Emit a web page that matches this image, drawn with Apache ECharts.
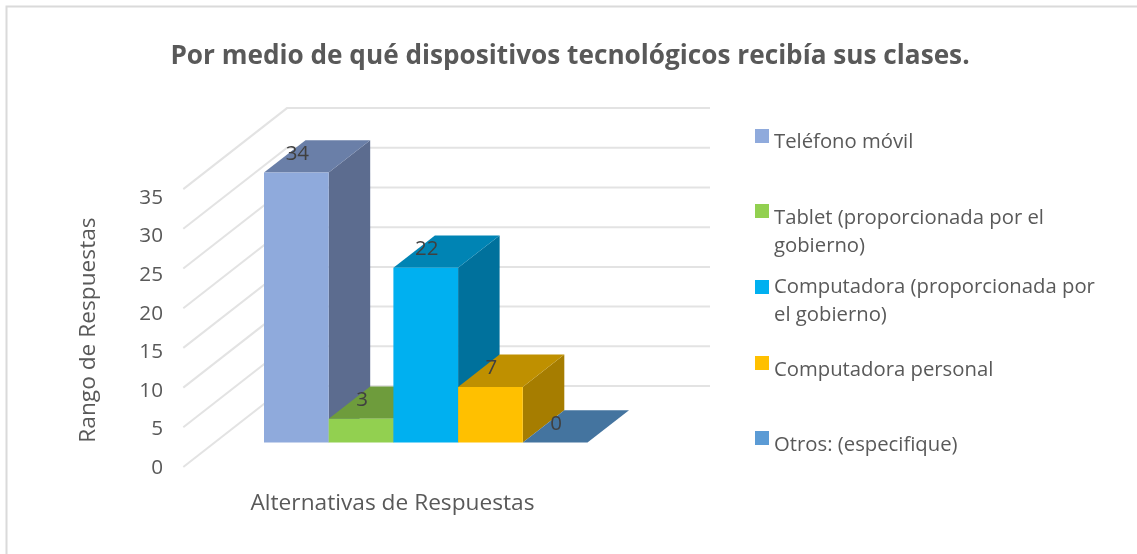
<!DOCTYPE html>
<html><head><meta charset="utf-8">
<style>html,body{margin:0;padding:0;background:#fff}#c{width:1137px;height:554px}</style>
<script src="https://cdn.jsdelivr.net/npm/echarts@6/dist/echarts.min.js"></script>
</head><body><div id="c"></div>
<script>
const categories = ['Teléfono móvil','Tablet (proporcionada por el\ngobierno)','Computadora (proporcionada por\nel gobierno)','Computadora personal','Otros: (especifique)'];
const values = [34,3,22,7,0];
const tickValues = [0,5,10,15,20,25,30,35];
const frontColors = ['#8FAADC','#92D050','#00B0F0','#FFC000','#5B9BD5'];
const topColors = ['#6A7FA8','#6E9C3C','#0084B4','#BF9000','#44749F'];
const sideColors = ['#5C6C8F','#5F8734','#00719C','#A67D00','#3B6589'];
const legendIconTops = [129,204,280,356,431];
const legendSpacers = [13,42,28,14,14];
const FONT = '"Open Sans"', TXT = '#595959', LINE_H = 28;
const DX = 41.5, DY = 32.3;
const chart = echarts.init(document.getElementById('c'), null, {renderer:'canvas'});

function wallItem(params, api){
  const y = api.coord([0, api.value(0)])[1];
  const left = params.coordSys.x;
  return {type:'polyline', silent:true, shape:{points:[[left-80.7,y+24.5],[left+23,y-56.5],[710,y-56.5]]},
    style:{stroke:'#E3E3E3',lineWidth:2,fill:null}};
}
function barItem(i){
  return function(params, api){
    const c0 = api.coord([i,0]), c1 = api.coord([i,api.value(1)]);
    const w = api.size([1,0])[0];
    const x0 = c0[0]-w/2, x1 = c0[0]+w/2, yb = c0[1], yt = c1[1];
    const kids = [];
    const poly = (pts,fill)=>kids.push({type:'polygon',shape:{points:pts},style:{fill}});
    if (yb-yt>0) poly([[x1,yb],[x1+DX,yb-DY],[x1+DX,yt-DY],[x1,yt]], sideColors[i]);
    poly([[x0,yt],[x1,yt],[x1+DX,yt-DY],[x0+DX,yt-DY]], topColors[i]);
    if (yb-yt>0) poly([[x0,yb],[x1,yb],[x1,yt],[x0,yt]], frontColors[i]);
    kids.push({type:'text',style:{text:String(api.value(1)),x:c0[0]+1,y:yt-18.5,align:'center',verticalAlign:'middle',
      font:'20.5px '+FONT,fill:'#404040'}});
    return {type:'group',children:kids};
  };
}
const series = [{
  type:'custom', name:'walls', xAxisIndex:0, yAxisIndex:0, clip:false, silent:true, z:1,
  data:tickValues.map(v=>[v]), encode:{y:0}, renderItem:wallItem
}].concat(categories.map((n,i)=>({
  type:'custom', name:n, xAxisIndex:0, yAxisIndex:0, clip:false, z:2+i,
  itemStyle:{color:frontColors[i]},
  data:[[i,values[i]]], encode:{x:0,y:1}, renderItem:barItem(i)
})));

chart.setOption({
  animation:false, backgroundColor:'#fff',
  title:{text:'Por medio de qué dispositivos tecnológicos recibía sus clases.',left:565,top:52,textAlign:'center',textVerticalAlign:'middle',
    textStyle:{fontFamily:FONT,fontWeight:'bold',fontSize:26.2,color:TXT}},
  legend:categories.map((n,i)=>{
    const lines = n.split('\n');
    const H = legendSpacers[i] + LINE_H*lines.length;
    return {
      data:[n], left:755, top:legendIconTops[i]-(H/2-7), orient:'vertical', padding:0, itemGap:0, itemWidth:14, itemHeight:14, icon:'rect', selectedMode:false,
      formatter:(nm)=>'{s| }\n'+nm.split('\n').map(l=>'{t|'+l+'}').join('\n'),
      textStyle:{rich:{
        s:{fontSize:1,height:legendSpacers[i],lineHeight:legendSpacers[i]},
        t:{fontFamily:FONT,fontSize:20.3,color:TXT,lineHeight:LINE_H,height:LINE_H}
      }}
    };
  }),
  grid:[
    {left:264,width:323.5,top:164.6,height:277.9,containLabel:false},
    {left:170,width:445,top:198,height:270,containLabel:false}
  ],
  xAxis:[
    {type:'category',gridIndex:0,show:false,data:categories.map((_,i)=>i)},
    {type:'category',gridIndex:1,data:[''],name:'Alternativas de Respuestas',nameLocation:'middle',nameGap:24,
      nameTextStyle:{fontFamily:FONT,fontSize:22.7,color:TXT},axisLine:{show:false},axisTick:{show:false},axisLabel:{show:false}}
  ],
  yAxis:[
    {type:'value',gridIndex:0,show:false,min:0,max:35,interval:5,splitLine:{show:false}},
    {type:'value',gridIndex:1,min:0,max:35,interval:5,name:'Rango de Respuestas',nameLocation:'middle',nameGap:70,nameRotate:90,
      nameTextStyle:{fontFamily:FONT,fontSize:22.7,color:TXT,padding:[0,0,0,6]},
      axisLine:{show:false},axisTick:{show:false},splitLine:{show:false},
      axisLabel:{margin:7,fontFamily:FONT,fontSize:20.7,color:TXT,formatter:(v)=>tickValues.includes(v)?String(v):''}}
  ],
  graphic:[{type:'polyline',silent:true,shape:{points:[[6.5,554],[6.5,6.5],[1137,6.5]]},style:{stroke:'#DADADA',lineWidth:2,fill:null}}],
  series
});
</script></body></html>
